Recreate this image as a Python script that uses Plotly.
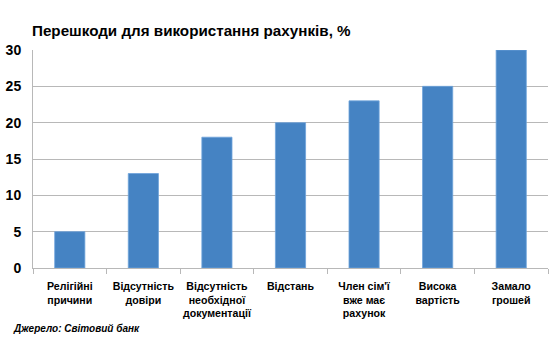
import plotly.graph_objects as go

categories = ["Релігійні<br>причини", "Відсутність<br>довіри", "Відсутність<br>необхідної<br>документації",
              "Відстань", "Член сім'ї<br>вже має<br>рахунок", "Висока<br>вартість", "Замало<br>грошей"]
values = [5, 13, 18, 20, 23, 25, 30]
y_ticks = [0, 5, 10, 15, 20, 25, 30]

fig = go.Figure(go.Bar(
    x=categories, y=values, width=0.41,
    marker=dict(color="#4583C3", line=dict(color="#6FA3DA", width=0.8)),
))

FONT = "Liberation Sans, Arial, sans-serif"
fig.update_layout(
    width=550, height=340,
    margin=dict(l=33, r=2, t=50, b=72),
    paper_bgcolor="white", plot_bgcolor="white",
    font=dict(family=FONT, color="black"),
    showlegend=False,
    title=dict(text="<b>Перешкоди для використання рахунків, %</b>",
               x=32/550, xanchor="left", y=1-31/340, yanchor="middle",
               font=dict(size=15.2, color="black")),
)
fig.update_yaxes(range=[0, 30], tickvals=y_ticks, ticktext=["<b>%d</b>" % t for t in y_ticks],
                 showgrid=True, gridcolor="#B8B8B8", gridwidth=1,
                 showline=True, linecolor="#B8B8B8", linewidth=1, zeroline=False,
                 tickfont=dict(size=14, family=FONT, color="black"),
                 ticks="", ticklabelstandoff=8, automargin=False)
fig.update_xaxes(showline=True, linecolor="#B8B8B8", linewidth=1,
                 ticks="outside", tickson="boundaries", ticklen=5, tickcolor="#B8B8B8",
                 tickfont=dict(size=10.6, family=FONT, color="black"),
                 tickangle=0, automargin=False, ticklabelstandoff=8,
                 tickvals=categories,
                 ticktext=["<b>" + c.replace("<br>", "</b><br><b>") + "</b>" for c in categories])

fig.add_annotation(text="<b><i>Джерело: Світовий банк</i></b>", xref="paper", yref="paper",
                   x=-22/517, y=-60/218, xanchor="left", yanchor="middle", showarrow=False,
                   font=dict(size=10, color="black"))

fig.write_html("out.html")
